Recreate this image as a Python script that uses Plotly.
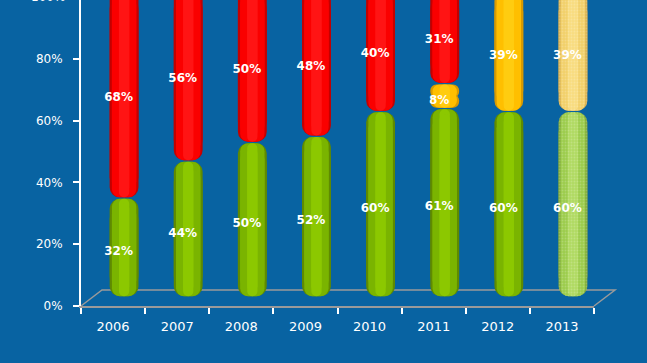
import plotly.graph_objects as go

years = ["2006", "2007", "2008", "2009", "2010", "2011", "2012", "2013"]
green = [32, 44, 50, 52, 60, 61, 60, 60]
orange = [0, 0, 0, 0, 0, 8, 39, 39]
red = [68, 56, 50, 48, 40, 31, 0, 0]
y_ticks = [0, 20, 40, 60, 80]

BG = "#0863a2"
# shading layers per series: (edge, mid, center); last category is "projected" (pale)
shades = {
    "green": (("#5f8a00", "#7ab400", "#8cc800"), ("#80aa3a", "#9ccc4c", "#b0da62")),
    "orange": (("#d89a00", "#ffbf00", "#ffcc10"), ("#d8b050", "#f2d06a", "#f8dc80")),
    "red": (("#c40000", "#fa0000", "#ff1414"), ("#c40000", "#fa0000", "#ff1414")),
}
layers = [(0.45, 10), (0.38, 8), (0.16, 5)]
gap = 0.5

plot_h = 306
yr = 99.0
px2u = yr / plot_h

fig = go.Figure()
# dummy trace to hold the category axis
fig.add_trace(go.Scatter(x=years, y=[0] * len(years), mode="none", showlegend=False,
                         hoverinfo="skip", xaxis="x", yaxis="y"))

series = [("green", green), ("orange", orange), ("red", red)]
bottoms = [0] * len(years)
segs = []
for name, vals in series:
    for i, v in enumerate(vals):
        if v > 0:
            segs.append((name, i, bottoms[i], bottoms[i] + v, v))
            bottoms[i] += v

for li, (w, rad) in enumerate(layers):
    rd = rad * px2u
    for name, i, b, t, v in segs:
        pale = 1 if i == len(years) - 1 else 0
        col = shades[name][pale][li]
        top = t - gap / 2
        bot = b + gap / 2
        pattern = dict(shape=".", size=3, solidity=0.3, fgcolor="#ffffff", fgopacity=0.2) if pale else dict(shape="")
        # upper piece: rounded top; lower piece (negative from its base): rounded bottom
        for base_v, h in ((bot + rd, top - (bot + rd)), (top - rd, bot - (top - rd))):
            fig.add_trace(go.Bar(
                x=[i], y=[h], base=[base_v], width=w,
                marker=dict(color=col, cornerradius=rad, line=dict(width=0), pattern=pattern),
                xaxis="x2", yaxis="y2", showlegend=False, hoverinfo="skip",
            ))

# labels (placed at mid-depth of the 3D floor)
tx, ty, tt = [], [], []
for name, i, b, t, v in segs:
    tx.append(i)
    ty.append((b + t) / 2)
    tt.append(f"{v}%")
fig.add_trace(go.Scatter(x=tx, y=ty, text=tt, mode="text",
                         textfont=dict(family="DejaVu Sans", size=12, color="white", weight="bold"),
                         xaxis="x3", yaxis="y3", showlegend=False, hoverinfo="skip"))

dy = 9 * px2u
dx = 11 / 64.0
floor_dx = 21 / 513
floor_dy = 16 / plot_h

fig.update_layout(
    width=647, height=363,
    margin=dict(l=81, r=53, t=0, b=57, pad=0, autoexpand=False),
    paper_bgcolor=BG, plot_bgcolor=BG,
    barmode="overlay",
    xaxis=dict(type="category", categoryarray=years, range=[-0.5, 7.5], automargin=False,
               tickson="boundaries", ticks="outside", ticklen=6, tickwidth=2, tickcolor="white",
               showline=True, linecolor="#9a9a9a", linewidth=2, showgrid=False, zeroline=False,
               ticklabelstandoff=7,
               tickfont=dict(family="DejaVu Sans", size=13, color="white")),
    yaxis=dict(range=[0, yr], tickvals=y_ticks, ticktext=[f"{v}%" for v in y_ticks], automargin=False,
               ticks="outside", ticklen=6, tickwidth=2, tickcolor="white",
               showline=True, linecolor="white", linewidth=2, showgrid=False, zeroline=False,
               ticklabelstandoff=8,
               tickfont=dict(family="DejaVu Sans", size=12, color="white")),
    xaxis2=dict(overlaying="x", range=[-0.5 - dx, 7.5 - dx], visible=False, automargin=False),
    yaxis2=dict(overlaying="y", range=[-dy, yr - dy], visible=False, automargin=False),
    xaxis3=dict(overlaying="x", range=[-0.5 - dx / 2, 7.5 - dx / 2], visible=False, automargin=False),
    yaxis3=dict(overlaying="y", range=[-dy / 2, yr - dy / 2], visible=False, automargin=False),
    shapes=[dict(type="path", xref="paper", yref="paper",
                 path=f"M 0 0 L {floor_dx} {floor_dy} L {1 + floor_dx} {floor_dy} L 1 0",
                 line=dict(color="#9a9a9a", width=1.5), layer="below")],
    annotations=[dict(text="100%", xref="paper", yref="paper", x=0, y=100 / yr, xanchor="right",
                      yanchor="middle", xshift=-14, showarrow=False,
                      font=dict(family="DejaVu Sans", size=12, color="white"))],
)

fig.write_html("out.html", config={"displayModeBar": False},
               post_script="document.body.style.margin='0px';document.body.style.background='" + BG + "';")
